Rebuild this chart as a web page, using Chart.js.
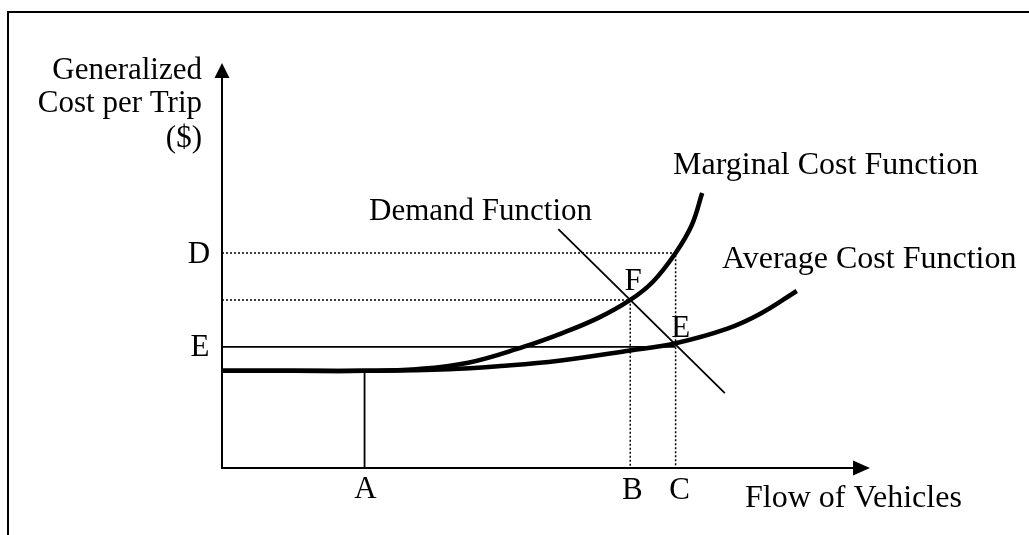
<!DOCTYPE html>
<html>
<head>
<meta charset="utf-8">
<script src="https://cdn.jsdelivr.net/npm/chart.js@4/dist/chart.umd.min.js"></script>
<style>
	html, body { margin: 0; padding: 0; background: #fff; }
	#wrap { width: 1029px; height: 535px; }
</style>
</head>
<body>
<div id="wrap"><canvas id="costChart" width="1029" height="535"></canvas></div>
<script>
// Levels (flow 0-100, cost 0-100)
const flowA = 22
const flowB = 63
const flowC = 70
const costMin = 24
const costE = 29.9
const costF = 41.5
const costD = 53.1

// Marginal cost curve
const mcFlow = [0, 11, 22, 30, 38, 46.5, 52, 58, 63, 66.5, 70, 72.5, 74.1]
const mcCost = [24, 24, 24, 24.4, 26, 29.9, 33, 37, 41.5, 46, 53.1, 60, 67.9]

// Average cost curve
const acFlow = [0, 11, 22, 35, 43, 52, 63, 70, 78, 83, 88.7]
const acCost = [24, 24, 24, 24.4, 25.2, 26.5, 29, 30.8, 34.4, 38, 43.7]

// Demand line
const demandFlow = [51.9, 77.6]
const demandCost = [59, 18.5]

const pts = (xs, ys) => xs.map((x, i) => ({ x: x, y: ys[i] }))

const FONT = '31px "Liberation Serif", "Times New Roman", serif'

const thick = { borderColor: '#000', borderWidth: 4.5, pointRadius: 0, showLine: true, clip: false, tension: 0.4 }
const thin = { borderColor: '#000', borderWidth: 1.8, pointRadius: 0, showLine: true, clip: false, tension: 0 }
const dotted = { borderColor: '#000', borderWidth: 1.5, borderDash: [2, 2], pointRadius: 0, showLine: true, clip: false, tension: 0 }

// axes, arrows, frame and all the text
const decor = {
	id: 'decor',
	afterDraw(chart) {
		const ctx = chart.ctx
		const a = chart.chartArea
		const xs = chart.scales.x
		const ys = chart.scales.y
		ctx.save()
		ctx.strokeStyle = '#000'
		ctx.fillStyle = '#000'

		// frame (top and left only)
		ctx.lineWidth = 2
		ctx.beginPath()
		ctx.moveTo(8, 535)
		ctx.lineTo(8, 12)
		ctx.lineTo(1029, 12)
		ctx.stroke()

		// axes
		ctx.beginPath()
		ctx.moveTo(a.left, a.top + 12)
		ctx.lineTo(a.left, a.bottom)
		ctx.lineTo(a.right - 14, a.bottom)
		ctx.stroke()

		// arrow heads
		ctx.beginPath()
		ctx.moveTo(a.left, a.top)
		ctx.lineTo(a.left - 7.5, a.top + 15)
		ctx.lineTo(a.left + 7.5, a.top + 15)
		ctx.closePath()
		ctx.fill()
		ctx.beginPath()
		ctx.moveTo(a.right, a.bottom)
		ctx.lineTo(a.right - 17, a.bottom - 7.5)
		ctx.lineTo(a.right - 17, a.bottom + 7.5)
		ctx.closePath()
		ctx.fill()

		ctx.font = FONT
		ctx.textBaseline = 'alphabetic'

		// y axis title
		ctx.textAlign = 'right'
		ctx.fillText('Generalized', a.left - 20, 79)
		ctx.fillText('Cost per Trip', a.left - 20, 112)
		ctx.fillText('($)', a.left - 20, 147)

		// level labels
		ctx.textAlign = 'center'
		ctx.fillText('D', a.left - 23, ys.getPixelForValue(costD) + 10)
		ctx.fillText('E', a.left - 22, ys.getPixelForValue(costE) + 9)
		ctx.fillText('A', xs.getPixelForValue(flowA) + 1, a.bottom + 30)
		ctx.fillText('B', xs.getPixelForValue(flowB) + 2, a.bottom + 31)
		ctx.fillText('C', xs.getPixelForValue(flowC) + 4, a.bottom + 31)
		ctx.fillText('F', xs.getPixelForValue(flowB) + 3, ys.getPixelForValue(costF) - 10)
		ctx.fillText('E', xs.getPixelForValue(flowC) + 5, ys.getPixelForValue(costE) - 10)

		// curve names and x axis title
		ctx.textAlign = 'left'
		ctx.font = '32px "Liberation Serif", "Times New Roman", serif'
		ctx.fillText('Marginal Cost Function', 673, 174)
		ctx.fillText('Average Cost Function', 722, 268)
		ctx.fillText('Flow of Vehicles', 745, 507)
		ctx.font = FONT
		ctx.fillText('Demand Function', 369, 220)
		ctx.restore()
	},
}

const ctx = document.getElementById('costChart').getContext('2d')
const costChart = new Chart(ctx, {
	type: 'scatter',
	data: {
		datasets: [
			{ ...thick, data: pts(mcFlow, mcCost) },
			{ ...thick, data: pts(acFlow, acCost) },
			{ ...thin, data: pts(demandFlow, demandCost) },
			{ ...thin, data: [{ x: 0, y: costE }, { x: flowC, y: costE }] },
			{ ...thin, data: [{ x: flowA, y: costMin }, { x: flowA, y: 0 }] },
			{ ...dotted, data: [{ x: 0, y: costD }, { x: flowC, y: costD }, { x: flowC, y: 0 }] },
			{ ...dotted, data: [{ x: 0, y: costF }, { x: flowB, y: costF }, { x: flowB, y: 0 }] },
		],
	},
	options: {
		responsive: false,
		animation: false,
		events: [],
		layout: { padding: { left: 222, right: 159, top: 63, bottom: 67 } },
		scales: {
			x: { type: 'linear', min: 0, max: 100, display: false },
			y: { type: 'linear', min: 0, max: 100, display: false },
		},
		plugins: {
			legend: { display: false },
			tooltip: { enabled: false },
		},
	},
	plugins: [decor],
})
</script>
</body>
</html>
